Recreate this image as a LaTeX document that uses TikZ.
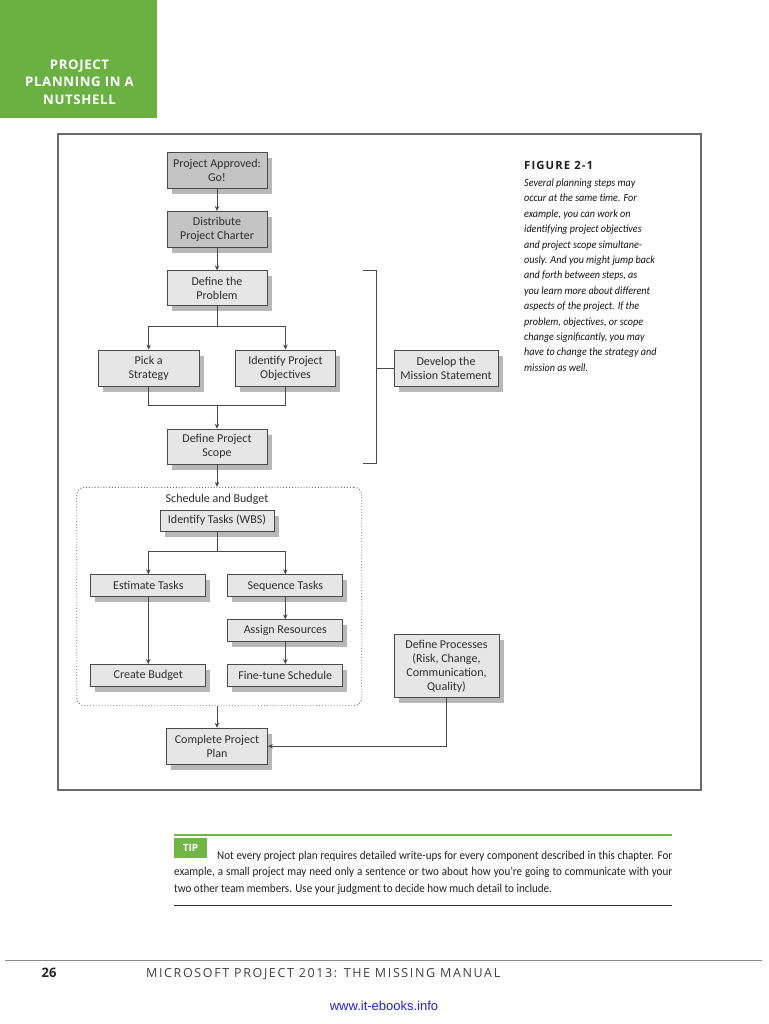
\documentclass[tikz,border=0pt]{standalone}
\usepackage{fontspec}
\setmainfont{Carlito}
\newfontfamily\capfont[FakeStretch=0.92]{Carlito}
\newfontfamily\hdrfont[LetterSpace=5]{Open Sans}
\newfontfamily\ftrfont[LetterSpace=13]{Open Sans}
\newfontfamily\figfont[LetterSpace=10]{Open Sans}
\newfontfamily\plainsans{Open Sans}
\newfontfamily\urlfont{Liberation Sans}
\usetikzlibrary{arrows.meta,shadows}
\definecolor{hdrgreen}{HTML}{6AB043}
\definecolor{tipgreen}{HTML}{72B646}
\definecolor{boxdark}{HTML}{C4C4C4}
\definecolor{boxlight}{HTML}{E6E6E6}
\definecolor{edge}{HTML}{4A4A4A}
\definecolor{txt}{HTML}{2E2E2E}
\definecolor{framecol}{HTML}{6A6A6A}
\definecolor{urlblue}{HTML}{2020E0}
\tikzset{
  stepbox/.style={draw=edge, line width=0.9pt, fill=boxlight, text=txt,
    font=\fontsize{12}{14}\selectfont, align=center, inner sep=0pt,
    drop shadow={shadow xshift=4.5pt, shadow yshift=-5.5pt, fill=black, opacity=0.28}},
  darkbox/.style={stepbox, fill=boxdark},
  arr/.style={draw=edge, line width=0.8pt, -{Stealth[length=5pt,width=4.5pt]}},
  conn/.style={draw=edge, line width=0.8pt},
  captxt/.style={font=\capfont\itshape\fontsize{11}{15.4}\selectfont, text=black!92, inner sep=0pt, anchor=base west},
  tiptxt/.style={font=\capfont\fontsize{12}{16}\selectfont, text=black!88, inner sep=0pt, anchor=base west},
}
\begin{document}
\begin{tikzpicture}[x=1pt,y=-1pt]
\useasboundingbox (0,0) rectangle (768,1024);
\fill[white] (0,0) rectangle (768,1024);
% header
\fill[hdrgreen] (0,0) rectangle (157,118);
\node[text=white, align=center, inner sep=0pt, font=\hdrfont\bfseries\fontsize{13.2}{17.5}\selectfont] (hdr) at (79.5,82) {PROJECT\\PLANNING IN A\\NUTSHELL};
% frame
\draw[framecol, line width=1.3pt] (58,134) rectangle (701,790);
% top part
\node[darkbox, minimum width=100pt, minimum height=36pt] (appr) at (217,170.7) {Project Approved:\\Go!};
\node[darkbox, minimum width=100pt, minimum height=36pt] (dist) at (217,229.5) {Distribute\\Project Charter};
\node[stepbox, minimum width=100pt, minimum height=35pt] (prob) at (217,288.3) {Define the\\Problem};
\node[stepbox, minimum width=101pt, minimum height=36pt] (pick) at (148.7,368) {Pick a\\Strategy};
\node[stepbox, minimum width=100pt, minimum height=36pt] (obj) at (285.5,368) {Identify Project\\Objectives};
\node[stepbox, minimum width=100pt, minimum height=35pt] (scope) at (217,446.7) {Define Project\\Scope};
\node[stepbox, minimum width=104pt, minimum height=36pt] (mission) at (446,368) {Develop the\\Mission Statement};
% bracket
\coordinate (b1) at (362.7,270.7);
\coordinate (b2) at (376,270.7);
\coordinate (b3) at (376,463.3);
\coordinate (b4) at (362.7,463.3);
\coordinate (bm) at (376,368);
\draw[conn] (b1) -- (b2) -- (b3) -- (b4);
\draw[conn] (bm) -- (mission.west);
% connectors top
\draw[arr] (appr) -- (dist);
\draw[arr] (dist) -- (prob);
\coordinate (s1) at (217,326.7);
\draw[conn] (prob.south) -- (s1);
\draw[arr] (s1) -| (pick.north);
\draw[arr] (s1) -| (obj.north);
\coordinate (j1) at (217,405.3);
\draw[conn] (pick.south) |- (j1) -| (obj.south);
\draw[arr] (j1) -- (scope.north);
% schedule and budget
\node[draw=edge!80, dotted, line width=0.9pt, rounded corners=8pt, minimum width=285pt, minimum height=218.4pt, inner sep=0pt] (sb) at (219.2,596.5) {};
\node[text=txt, inner sep=0pt, font=\fontsize{12}{14}\selectfont] (sblabel) at (217,499) {Schedule and Budget};
\node[stepbox, minimum width=114pt, minimum height=21pt] (wbs) at (217,520.5) {Identify Tasks (WBS)};
\node[stepbox, minimum width=115pt, minimum height=22pt] (est) at (148.3,585.8) {Estimate Tasks};
\node[stepbox, minimum width=115pt, minimum height=22pt] (seq) at (285.3,585.8) {Sequence Tasks};
\node[stepbox, minimum width=115pt, minimum height=22pt] (assign) at (285.3,630.8) {Assign Resources};
\node[stepbox, minimum width=115pt, minimum height=22pt] (budget) at (148.3,675.5) {Create Budget};
\node[stepbox, minimum width=115pt, minimum height=22pt] (fine) at (285.3,675.5) {Fine-tune Schedule};
\draw[arr] (scope.south) -- (scope.south |- sb.north);
\coordinate (s2) at (217,551);
\draw[conn] (wbs.south) -- (s2);
\draw[arr] (s2) -| (est.north);
\draw[arr] (s2) -| (seq.north);
\draw[arr] (est) -- (budget);
\draw[arr] (seq) -- (assign);
\draw[arr] (assign) -- (fine);
% bottom
\node[stepbox, minimum width=101pt, minimum height=36pt] (plan) at (217,746.2) {Complete Project\\Plan};
\node[stepbox, minimum width=105pt, minimum height=63pt] (proc) at (446.5,666) {Define Processes\\(Risk, Change,\\Communication,\\Quality)};
\draw[arr] (plan.north |- sb.south) -- (plan.north);
\draw[arr] (proc.south) |- (plan.east);
% caption
\node[font=\figfont\bfseries\fontsize{11.3}{12}\selectfont, text=black!88, inner sep=0pt, anchor=base west] (fig) at (524,169.5) {FIGURE 2-1};
\foreach \t [count=\i] in {{Several planning steps may},{occur at the same time. For},{example, you can work on},{identifying project objectives},{and project scope simultane-},{ously. And you might jump back},{and forth between steps, as},{you learn more about different},{aspects of the project. If the},{problem, objectives, or scope},{change significantly, you may},{have to change the strategy and},{mission as well.}}
  \node[captxt] (cap\i) at (524,{186.5+15.4*(\i-1)}) {\t};
% tip
\draw[tipgreen, line width=1.3pt] (174,835) -- (672,835);
\fill[tipgreen] (174,838) rectangle (207,857.5);
\node[text=white, inner sep=0pt, font=\plainsans\bfseries\fontsize{10}{12}\selectfont] (tip) at (190.5,847.5) {TIP};
\node[tiptxt] (tip1) at (217,859) {\makebox[455pt][s]{Not every project plan requires detailed write-ups for every component described in this chapter. For}};
\node[tiptxt] (tip2) at (174,875.5) {\makebox[498pt][s]{example, a small project may need only a sentence or two about how you’re going to communicate with your}};
\node[tiptxt] (tip3) at (174,892) {two other team members. Use your judgment to decide how much detail to include.};
\draw[black!80, line width=0.9pt] (174,905) -- (672,905);
% footer
\draw[black!45, line width=0.8pt] (5,960) -- (762,960);
\node[font=\plainsans\bfseries\fontsize{13}{14}\selectfont, text=black!85, inner sep=0pt, anchor=base] (pg) at (49,977) {26};
\node[font=\ftrfont\fontsize{12.5}{14}\selectfont, text=black!75, inner sep=0pt, anchor=base west] (ftr) at (146,977) {MICROSOFT PROJECT 2013: THE MISSING MANUAL};
\node[font=\urlfont\fontsize{13}{15}\selectfont, text=urlblue, inner sep=0pt, anchor=base] (url) at (384,1010.5) {www.it-ebooks.info};
\end{tikzpicture}
\end{document}
